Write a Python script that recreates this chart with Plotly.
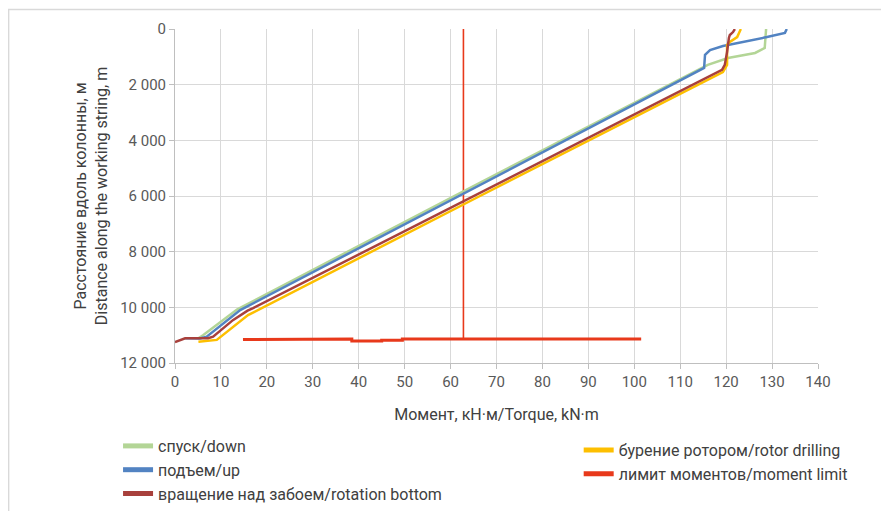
import plotly.graph_objects as go

# спуск/down
down_torque = [128.7, 128.6, 128.4, 126.3, 120.4, 116.0, 60.8, 14.5, 13.5, 6.1, 5.0]
down_depth = [0, 300, 680, 860, 1040, 1290, 6000, 9990, 10080, 11000, 11120]

# подъем/up
up_torque = [133.2, 132.8, 128.9, 123.0, 119.3, 116.5, 115.4, 115.2, 61.7, 14.8, 14.2, 6.9, 5.4, 2.2]
up_depth = [0, 140, 290, 500, 610, 755, 930, 1400, 6000, 10030, 10100, 11055, 11120, 11110]

# вращение над забоем/rotation bottom
rot_torque = [121.9, 121.5, 120.8, 120.6, 120.2, 119.7, 119.1, 65.2, 17.0, 15.8, 12.6, 8.3, 7.2, 2.2, 0.0]
rot_depth = [0, 110, 215, 320, 830, 1290, 1470, 6000, 10030, 10120, 10460, 11055, 11110, 11110, 11250]

# бурение ротором/rotor drilling
rotor_torque = [123.2, 122.9, 122.4, 120.8, 120.2, 120.2, 119.3, 66.4, 18.6, 15.9, 9.1, 5.1]
rotor_depth = [0, 110, 290, 470, 575, 1290, 1545, 6000, 10030, 10280, 11170, 11240]

# лимит моментов/moment limit
limit_torque = [14.8, 25.3, 25.3, 38.5, 38.5, 45.0, 45.0, 49.5, 49.5, 101.5]
limit_depth = [11160, 11160, 11140, 11140, 11210, 11210, 11180, 11180, 11140, 11140]
limit_vert_torque = [62.8, 62.8]
limit_vert_depth = [0, 11140]

y_ticks = [0, 2000, 4000, 6000, 8000, 10000, 12000]
y_tick_labels = ["0", "2 000", "4 000", "6 000", "8 000", "10 000", "12 000"]
x_ticks = list(range(0, 141, 10))

C_DOWN = "#b3d596"
C_UP = "#5283c2"
C_ROT = "#a8403c"
C_ROTOR = "#fdbf00"
C_LIMIT = "#e8391b"

FONT = "Roboto"

fig = go.Figure()

def add_series(x, y, color, width=2.5):
    fig.add_trace(go.Scatter(x=x, y=y, mode="lines", showlegend=False,
                             line=dict(color=color, width=width), hoverinfo="skip"))

add_series(limit_vert_torque, limit_vert_depth, C_LIMIT, 1.6)
add_series(down_torque, down_depth, C_DOWN)
add_series(up_torque, up_depth, C_UP)
add_series(rotor_torque, rotor_depth, C_ROTOR)
add_series(rot_torque, rot_depth, C_ROT)
add_series(limit_torque, limit_depth, C_LIMIT, 3)

def add_legend(name, color, legend):
    fig.add_trace(go.Scatter(x=[None], y=[None], mode="lines", name=name,
                             line=dict(color=color, width=5), legend=legend))

add_legend("спуск/down", C_DOWN, "legend")
add_legend("подъем/up", C_UP, "legend")
add_legend("вращение над забоем/rotation bottom", C_ROT, "legend")
add_legend("бурение ротором/rotor drilling", C_ROTOR, "legend2")
add_legend("лимит моментов/moment limit", C_LIMIT, "legend2")

# figure sits at an 8px page offset
W, H = 881, 503
L, T = 167, 21
R = W - 810.5
B = H - 355
pw, ph = W - L - R, H - T - B

def px_x(p):
    return (p - L) / pw

def px_y(p):
    return (H - B - p) / ph

fig.update_layout(
    width=W, height=H,
    margin=dict(l=L, r=R, t=T, b=B, autoexpand=False),
    paper_bgcolor="white", plot_bgcolor="white",
    font=dict(family=FONT, color="#404040"),
    xaxis=dict(
        range=[0, 140], tickvals=x_ticks, showgrid=True, gridcolor="#d9d9d9", gridwidth=1,
        showline=True, linecolor="#bfbfbf", linewidth=1, zeroline=False,
        ticks="outside", ticklen=5, tickcolor="#bfbfbf",
        tickfont=dict(size=15, color="#595959", family=FONT),
        title=dict(text="Момент, кН·м/Torque, kN·m", font=dict(size=16, color="#404040"), standoff=18),
        fixedrange=True,
    ),
    yaxis=dict(
        range=[12000, 0], tickvals=y_ticks, ticktext=y_tick_labels, showgrid=True,
        gridcolor="#d9d9d9", gridwidth=1, showline=True, linecolor="#bfbfbf", linewidth=1,
        zeroline=False, ticks="outside", ticklen=5, tickcolor="#bfbfbf",
        tickfont=dict(size=15, color="#595959", family=FONT),
        title=dict(text="Расстояние вдоль колонны, м<br>Distance along the working string, m",
                   font=dict(size=16, color="#404040"), standoff=8),
        fixedrange=True,
    ),
    legend=dict(x=px_x(110), y=px_y(421), xanchor="left", yanchor="top",
                orientation="v", font=dict(size=16, color="#404040", family=FONT),
                bgcolor="rgba(0,0,0,0)"),
    legend2=dict(x=px_x(571), y=px_y(425), xanchor="left", yanchor="top",
                 orientation="v", font=dict(size=16, color="#404040", family=FONT),
                 bgcolor="rgba(0,0,0,0)"),
    shapes=[dict(type="rect", xref="paper", yref="paper",
                 x0=px_x(0.5), x1=px_x(960), y0=px_y(1.5), y1=px_y(600),
                 line=dict(color="#d9d9d9", width=1.5), fillcolor="rgba(0,0,0,0)", layer="below")],
)

fig.write_html("out.html")
